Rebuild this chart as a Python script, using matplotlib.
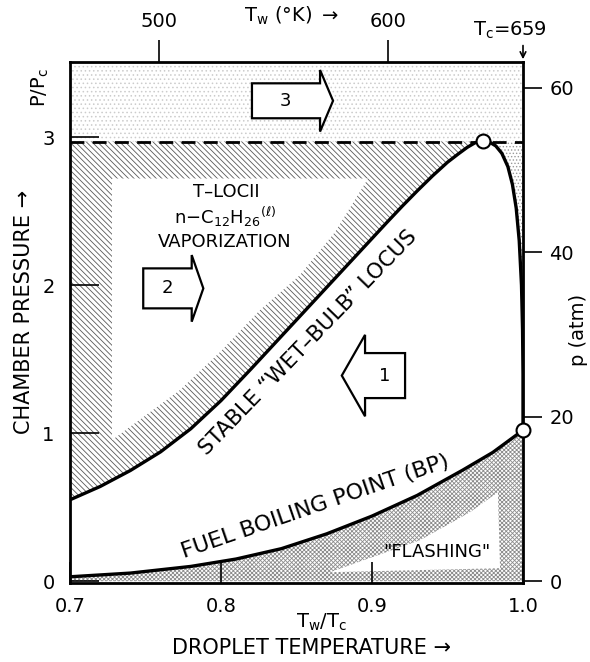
import numpy as np
import matplotlib
matplotlib.use("Agg")
import matplotlib.pyplot as plt
from matplotlib.patches import Polygon

plt.rcParams['font.family'] = ['DejaVu Sans']
plt.rcParams['hatch.linewidth'] = 0.6

# critical values for n-dodecane
T_c = 659.0   # K
P_c = 18.0    # atm

# stable "wet-bulb" locus (Tw/Tc, P/Pc)
wb_x = [0.700, 0.720, 0.740, 0.760, 0.780, 0.800, 0.820, 0.840, 0.860, 0.880,
        0.900, 0.910, 0.920, 0.930, 0.940, 0.950, 0.957, 0.963, 0.968, 0.9735,
        0.978, 0.982, 0.986, 0.990, 0.993, 0.9955, 0.9975, 0.999, 0.9997,
        1.000, 1.000]
wb_y = [0.55, 0.64, 0.748, 0.874, 1.03, 1.22, 1.435, 1.655, 1.875, 2.095,
        2.315, 2.425, 2.533, 2.637, 2.737, 2.83, 2.885, 2.93, 2.96, 2.975,
        2.965, 2.94, 2.89, 2.80, 2.68, 2.52, 2.30, 2.00, 1.70,
        1.40, 1.02]

# fuel boiling point curve
bp_x = [0.70, 0.74, 0.78, 0.81, 0.84, 0.87, 0.90, 0.93, 0.96, 0.98, 1.00]
bp_y = [0.03, 0.055, 0.10, 0.15, 0.22, 0.32, 0.44, 0.58, 0.75, 0.87, 1.02]

p_dash = 2.97          # upper limit of region 2
crit_pts_x = [0.9735, 1.0]
crit_pts_y = [2.975, 1.02]

# unhatched interior of the T-locii region
tl_x = [0.7278, 0.8974, 0.8755, 0.8523, 0.8258, 0.7993, 0.7728, 0.7278]
tl_y = [2.72, 2.72, 2.358, 2.068, 1.831, 1.547, 1.291, 0.953]

# unhatched interior of the "flashing" region
fl_x = [0.8722, 0.9318, 0.9649, 0.9834, 0.9848]
fl_y = [0.061, 0.277, 0.466, 0.601, 0.088]

top_ticks_K = [500, 600]
left_ticks = [0, 1, 2, 3]
right_ticks = [0, 20, 40, 60]
x_ticks = [0.7, 0.8, 0.9, 1.0]

fig = plt.figure(figsize=(5.9, 6.62), dpi=100)
ax = fig.add_axes([70/590, 1-583/662, 453/590, 521/662])
ax.set_xlim(0.7, 1.0)
ax.set_ylim(-0.012, 3.507)

# region 3 (above dashed line) - light stipple
ax.fill_between([0.7, 1.0], p_dash, 3.507, facecolor='white', edgecolor='0.8',
                hatch='....', linewidth=0)

# region 2 - hatched band between dashed line and wet-bulb locus
wbx = np.array(wb_x)
wby = np.array(wb_y)
rising = wbx <= 0.9735
ax.fill_between(wbx[rising], wby[rising], p_dash, facecolor='white',
                edgecolor='0.35', hatch='\\' * 6, linewidth=0)
ax.add_patch(Polygon(np.column_stack([tl_x, tl_y]), closed=True,
                     facecolor='white', edgecolor='none'))

# small stippled patch between descending locus and T = Tc
fall = wbx >= 0.9735
ax.fill_betweenx(wby[fall], wbx[fall], 1.0, facecolor='white', edgecolor='0.6',
                 hatch='.....', linewidth=0)

# flashing region below boiling point
ax.fill_between(bp_x, 0, bp_y, facecolor='white', edgecolor='0.55',
                hatch='x' * 8, linewidth=0)
ax.add_patch(Polygon(np.column_stack([fl_x, fl_y]), closed=True,
                     facecolor='white', edgecolor='none'))

ax.axhline(p_dash, color='black', lw=2, dashes=(5, 3))
ax.plot(wb_x, wb_y, color='black', lw=2.4, solid_joinstyle='round')
ax.plot(bp_x, bp_y, color='black', lw=2.4, solid_joinstyle='round')
ax.plot(crit_pts_x, crit_pts_y, 'o', ms=10, mfc='white', mec='black', mew=1.5,
        clip_on=False, zorder=5)


def block_arrow(x0, x1, xt, yc, hb, hh):
    # body from x0 to x1, head from x1 to tip xt
    v = [(x0, yc - hb), (x1, yc - hb), (x1, yc - hh), (xt, yc),
         (x1, yc + hh), (x1, yc + hb), (x0, yc + hb)]
    ax.add_patch(Polygon(v, closed=True, facecolor='white', edgecolor='black',
                         lw=1.6, zorder=4))


block_arrow(0.8205, 0.8656, 0.8742, 3.245, 0.118, 0.208)
ax.text(0.843, 3.245, '3', ha='center', va='center', fontsize=13, zorder=5)
block_arrow(0.7485, 0.7806, 0.7883, 1.978, 0.135, 0.225)
ax.text(0.7645, 1.978, '2', ha='center', va='center', fontsize=13, zorder=5)
block_arrow(0.9219, 0.8954, 0.8800, 1.389, 0.152, 0.275)
ax.text(0.9085, 1.389, '1', ha='center', va='center', fontsize=13, zorder=5)

# annotations
ax.text(0.8035, 2.63, 'T\u2013LOCII', ha='center', va='center', fontsize=13)
ax.text(0.8025, 2.46, r'n$-$C$_{12}$H$_{26}$$^{(\ell)}$', ha='center',
        va='center', fontsize=13)
ax.text(0.8025, 2.29, 'VAPORIZATION', ha='center', va='center', fontsize=13)
ax.text(0.8575, 1.612, 'STABLE \u201cWET\u2013BULB\u201d LOCUS', ha='center',
        va='center', fontsize=15.5, rotation=46, rotation_mode='anchor')
ax.text(0.8623, 0.507, 'FUEL BOILING POINT (BP)', ha='center', va='center',
        fontsize=16, rotation=19, rotation_mode='anchor')
ax.text(0.9429, 0.198, '"FLASHING"', ha='center', va='center',
        fontsize=13)

ax.set_xticks(x_ticks)
ax.set_xticklabels(['0.7', '0.8', '0.9', '1.0'])
ax.set_yticks(left_ticks)
ax.tick_params(axis='x', which='both', top=True, bottom=True, direction='in',
               length=15, width=1.2, labelsize=14, pad=10)
ax.tick_params(axis='y', direction='in', length=21, width=1.2, labelsize=14,
               pad=11, right=False)
for s in ax.spines.values():
    s.set_linewidth(2)

# right axis in atm
axr = ax.twinx()
axr.set_ylim(-0.012 * P_c, 3.507 * P_c)
axr.set_yticks(right_ticks)
axr.tick_params(axis='y', direction='out', length=14, width=1.2, labelsize=14,
                pad=5)
axr.spines[:].set_visible(False)

# top axis in kelvin
axt = ax.twiny()
axt.set_xlim(0.7, 1.0)
axt.set_xticks([k / T_c for k in top_ticks_K])
axt.set_xticklabels([str(k) for k in top_ticks_K])
axt.tick_params(axis='x', direction='out', length=16, width=1.2, labelsize=14,
                pad=6)
axt.spines[:].set_visible(False)

ax.annotate('', xy=(1.0, 3.507), xycoords='data', xytext=(1.0, 3.507 + 0.13),
            arrowprops=dict(arrowstyle='->', lw=1.2), annotation_clip=False)
fig.text(510/590, 1-30/662, r'T$_\mathrm{c}$=659', ha='center', va='center',
         fontsize=14)
fig.text(292/590, 1-16/662, r'T$_\mathrm{w}$ (°K) $\rightarrow$', ha='center',
         va='center', fontsize=14)

fig.text(40/590, 1-88/662, r'P/P$_\mathrm{c}$', ha='center', va='center',
         fontsize=14, rotation=90)
fig.text(24/590, 1-312/662, 'CHAMBER PRESSURE \u2192', ha='center',
         va='center', fontsize=15, rotation=90)
fig.text(578/590, 1-330/662, 'p (atm)', ha='center', va='center', fontsize=14,
         rotation=90)
fig.text(322/590, 1-622/662, r'T$_\mathrm{w}$/T$_\mathrm{c}$', ha='center',
         va='center', fontsize=14)
fig.text(311/590, 1-648/662, 'DROPLET TEMPERATURE \u2192', ha='center',
         va='center', fontsize=15)

fig.savefig('out.png', dpi=100)
